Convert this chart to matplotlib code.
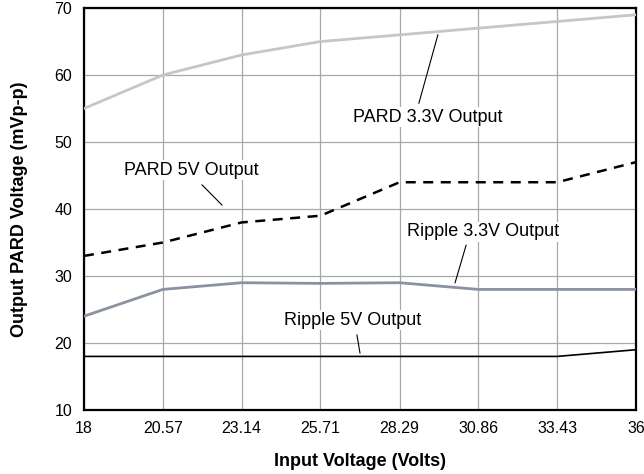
import numpy as np
import matplotlib.pyplot as plt

plt.rcParams['font.family'] = ['Liberation Sans', 'DejaVu Sans']

# data
vin = [18, 20.57, 23.14, 25.71, 28.29, 30.86, 33.43, 36]
vin_labels = ["18", "20.57", "23.14", "25.71", "28.29", "30.86", "33.43", "36"]
pard_33 = [55, 60, 63, 65, 66, 67, 68, 69]
pard_5 = [33, 35, 38, 39, 44, 44, 44, 47]
ripple_33 = [24, 28, 29, 28.9, 29, 28, 28, 28]
ripple_5 = [18, 18, 18, 18, 18, 18, 18, 19]

fig = plt.figure(figsize=(6.44, 4.74), dpi=100)
ax = fig.add_axes([0.1304, 0.135, 0.8572, 0.848])

ax.plot(vin, pard_33, color="#c6c6c6", lw=2, zorder=3)
ax.plot(vin, pard_5, color="black", lw=1.8, ls=(0, (4, 3)), zorder=3)
ax.plot(vin, ripple_33, color="#8a92a2", lw=2, zorder=3)
ax.plot(vin, ripple_5, color="black", lw=1.2, zorder=3)

ax.set_xlim(18, 36)
ax.set_ylim(10, 70)
ax.set_xticks(vin)
ax.set_xticklabels(vin_labels)
ax.set_yticks(np.arange(10, 71, 10))
ax.grid(True, color="#a8a8a8", lw=0.9, zorder=0)
ax.tick_params(length=0, labelsize=11.5)
ax.tick_params(axis="x", pad=8)
ax.tick_params(axis="y", pad=8.6)
for s in ax.spines.values():
    s.set_linewidth(1.6)
    s.set_color("black")

ax.set_xlabel("Input Voltage (Volts)", fontsize=13, fontweight="bold", labelpad=12)
ax.set_ylabel("Output PARD Voltage (mVp-p)", fontsize=13, fontweight="bold", labelpad=19)

# callouts
def callout(text, tx, ty, x0, y0, x1, y1):
    ax.text(tx, ty, text, fontsize=13, ha="center", va="center", zorder=5,
            bbox=dict(facecolor="white", edgecolor="none", pad=1))
    ax.plot([x0, x1], [y0, y1], color="black", lw=0.8, zorder=4)

callout("PARD 3.3V Output", 29.2, 53.7, 28.92, 55.8, 29.54, 66.0)
callout("PARD 5V Output", 21.5, 45.8, 21.85, 43.6, 22.5, 40.6)
callout("Ripple 3.3V Output", 31.0, 36.6, 30.46, 34.6, 30.10, 29.0)
callout("Ripple 5V Output", 26.76, 23.4, 26.9, 21.2, 27.0, 18.5)

fig.savefig("out.png", dpi=100)
